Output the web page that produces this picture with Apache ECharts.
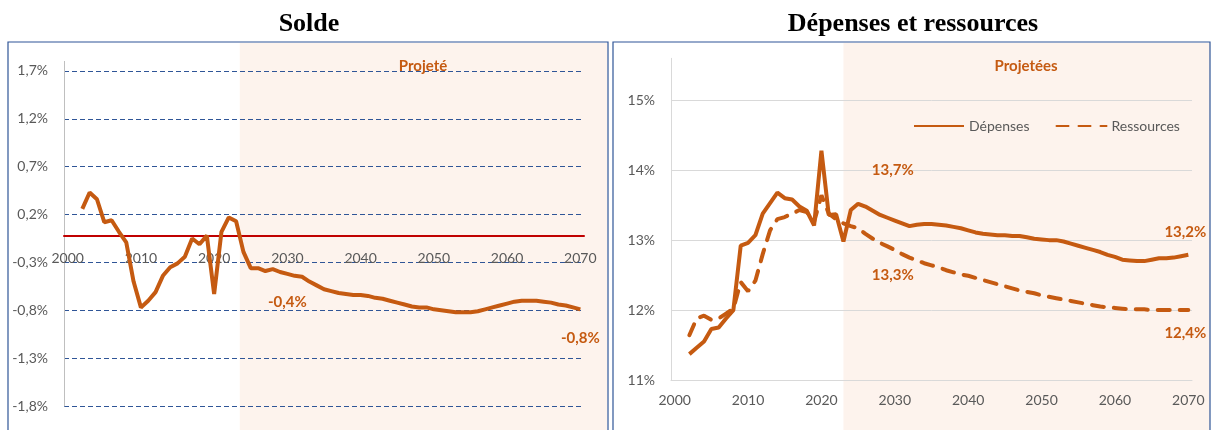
<!DOCTYPE html>
<html>
<head>
<meta charset="utf-8">
<script src="https://cdn.jsdelivr.net/npm/echarts@6/dist/echarts.min.js"></script>
<style>
  html, body { margin: 0; padding: 0; background: #fff; }
  #chart { width: 1212px; height: 430px; }
</style>
</head>
<body>
<div id="chart"></div>
<script>
// categories: 2000 .. 2070 (one per year)
const years = [];
for (let y = 2000; y <= 2070; y++) years.push(String(y));

// solde, % du PIB (2000-2001 vides)
const solde = [null, null,
  0.26, 0.43, 0.36, 0.12, 0.14, 0.02, -0.09, -0.50,
  -0.77, -0.70, -0.61, -0.44, -0.35, -0.31, -0.24, -0.05, -0.11, -0.02,
  -0.63, 0.02, 0.17, 0.13, -0.19, -0.36, -0.36, -0.39, -0.37, -0.40,
  -0.42, -0.44, -0.45, -0.50, -0.54, -0.58, -0.60, -0.62, -0.63, -0.64,
  -0.64, -0.65, -0.67, -0.68, -0.70, -0.72, -0.74, -0.76, -0.77, -0.77,
  -0.79, -0.80, -0.81, -0.82, -0.82, -0.82, -0.81, -0.79, -0.77, -0.75,
  -0.73, -0.71, -0.70, -0.70, -0.70, -0.71, -0.72, -0.74, -0.75, -0.77,
  -0.79];

const depenses = [null, null,
  11.37, 11.46, 11.55, 11.73, 11.75, 11.88, 12.00, 12.92,
  12.96, 13.07, 13.38, 13.53, 13.68, 13.60, 13.58, 13.48, 13.42, 13.21,
  14.28, 13.36, 13.37, 12.98, 13.43, 13.52, 13.48, 13.42, 13.36, 13.32,
  13.28, 13.24, 13.20, 13.22, 13.23, 13.23, 13.22, 13.21, 13.19, 13.17,
  13.14, 13.11, 13.09, 13.08, 13.07, 13.07, 13.06, 13.06, 13.04, 13.02,
  13.01, 13.00, 13.00, 12.98, 12.95, 12.92, 12.89, 12.86, 12.83, 12.79,
  12.76, 12.72, 12.71, 12.70, 12.70, 12.72, 12.74, 12.74, 12.75, 12.77,
  12.79];

const ressources = [null, null,
  11.64, 11.88, 11.92, 11.86, 11.88, 11.95, 12.02, 12.40,
  12.27, 12.42, 12.80, 13.14, 13.30, 13.33, 13.38, 13.43, 13.40, 13.26,
  13.64, 13.38, 13.30, 13.24, 13.20, 13.17, 13.09, 13.02, 12.96, 12.91,
  12.86, 12.80, 12.75, 12.71, 12.67, 12.64, 12.61, 12.57, 12.54, 12.51,
  12.49, 12.46, 12.43, 12.40, 12.37, 12.34, 12.31, 12.28, 12.26, 12.24,
  12.21, 12.19, 12.17, 12.15, 12.13, 12.11, 12.09, 12.07, 12.05, 12.04,
  12.03, 12.02, 12.01, 12.01, 12.01, 12.00, 12.00, 12.00, 12.00, 12.00,
  12.00];

// annotations (texte, année)
const soldeLabels = [['-0,4%', '2030'], ['-0,8%', '2070']];
const depLabels = [['13,7%', '2030'], ['13,2%', '2070']];
const resLabels = [['13,3%', '2030'], ['12,4%', '2070']];

const ORANGE = '#C55A11';
const GREY = '#595959';
const FONT = 'Lato, "Noto Sans", sans-serif';

const chart = echarts.init(document.getElementById('chart'));

function marks(labels, data, offsets) {
  return {
    symbol: 'circle',
    symbolSize: 1,
    itemStyle: { color: 'rgba(0,0,0,0)' },
    label: {
      show: true,
      color: ORANGE,
      fontWeight: 'bold',
      fontSize: 15,
      fontFamily: FONT,
    },
    data: labels.map((l, i) => ({
      coord: [l[1], data[years.indexOf(l[1])]],
      label: { formatter: l[0], offset: offsets[i] },
    })),
  };
}

const option = {
  animation: false,
  grid: [
    { left: 64, right: 628, top: 61.4, bottom: 24 },
    { left: 671, right: 20, top: 58.3, bottom: 50 },
  ],
  xAxis: [
    {
      type: 'category',
      gridIndex: 0,
      data: years,
      boundaryGap: true,
      axisLine: { onZero: false, lineStyle: { color: '#C00000', width: 2 } },
      axisTick: { show: false },
      axisLabel: { interval: 9, margin: 15, color: GREY, fontSize: 14, fontFamily: FONT },
    },
    {
      type: 'category',
      gridIndex: 1,
      data: years,
      boundaryGap: true,
      axisLine: { lineStyle: { color: '#D9D9D9', width: 1 } },
      axisTick: { show: false },
      axisLabel: { interval: 9, margin: 13, color: GREY, fontSize: 14, fontFamily: FONT },
    },
  ],
  yAxis: [
    {
      type: 'value',
      gridIndex: 0,
      min: -1.8,
      max: 1.8,
      interval: 0.5,
      axisLine: { show: true, lineStyle: { color: '#BFBFBF' } },
      axisTick: { show: false },
      axisLabel: {
        margin: 16, color: GREY, fontSize: 14, fontFamily: FONT,
        showMaxLabel: false,
        formatter: (v) => (v > 1.75 ? '' : v.toFixed(1).replace('.', ',') + '%'),
      },
      splitLine: {
        show: true,
        lineStyle: {
          type: [5, 3],
          width: 1,
          color: ['#2F5597', '#2F5597', '#2F5597', '#2F5597', '#2F5597', '#2F5597', '#2F5597', '#2F5597', 'rgba(0,0,0,0)'],
        },
      },
    },
    {
      type: 'value',
      gridIndex: 1,
      min: 11,
      max: 15.6,
      interval: 1,
      axisLine: { show: true, lineStyle: { color: '#D9D9D9' } },
      axisTick: { show: false },
      axisLabel: {
        margin: 16, color: GREY, fontSize: 14, fontFamily: FONT,
        showMaxLabel: false,
        formatter: (v) => (v > 15.5 ? '' : v + '%'),
      },
      splitLine: {
        show: true,
        lineStyle: {
          width: 1,
          color: ['#D9D9D9', '#D9D9D9', '#D9D9D9', '#D9D9D9', '#D9D9D9', 'rgba(0,0,0,0)'],
        },
      },
    },
  ],
  legend: {
    data: ['Dépenses', 'Ressources'],
    left: 908,
    top: 114,
    itemWidth: 50,
    itemHeight: 14,
    itemGap: 26,
    itemStyle: { opacity: 0 },
    textStyle: { color: GREY, fontSize: 14, fontFamily: FONT },
  },
  series: [
    {
      name: 'Solde',
      type: 'line',
      xAxisIndex: 0,
      yAxisIndex: 0,
      data: solde,
      symbol: 'none',
      lineStyle: { color: ORANGE, width: 4 },
      itemStyle: { color: ORANGE },
      markPoint: marks(soldeLabels, solde, [[0, 28], [0, 29]]),
    },
    {
      name: 'Dépenses',
      type: 'line',
      xAxisIndex: 1,
      yAxisIndex: 1,
      data: depenses,
      symbol: 'none',
      lineStyle: { color: ORANGE, width: 4 },
      itemStyle: { color: ORANGE },
      markPoint: marks(depLabels, depenses, [[-2, -50], [-3, -23]]),
    },
    {
      name: 'Ressources',
      type: 'line',
      xAxisIndex: 1,
      yAxisIndex: 1,
      data: ressources,
      symbol: 'none',
      lineStyle: { color: ORANGE, width: 4, type: [12, 10], cap: 'round' },
      itemStyle: { color: ORANGE },
      markPoint: marks(resLabels, ressources, [[-2, 25], [-3, 23]]),
    },
  ],
};

chart.setOption(option);

// x axis of "Solde" sits on the zero line
const yZero = chart.convertToPixel({ yAxisIndex: 0 }, 0);
const yBottom = chart.convertToPixel({ yAxisIndex: 0 }, -1.8);

// zone "projetée" : from the axis positions of 2023
const p23 = chart.convertToPixel({ xAxisIndex: 0 }, '2023');
const p24 = chart.convertToPixel({ xAxisIndex: 0 }, '2024');
const leftShade = (p23 + p24) / 2;
const rightShade = chart.convertToPixel({ xAxisIndex: 1 }, '2023');
const SHADE = '#FDF3ED';
const TITLE_FONT = 'bold 26px "Liberation Serif", serif';
const NOTE_FONT = 'bold 15px Lato, "Noto Sans", sans-serif';

chart.setOption({
  xAxis: [{ offset: yZero - yBottom }, {}],
  graphic: [
    { type: 'rect', z: -1, shape: { x: leftShade, y: 43, width: 607 - leftShade, height: 400 }, style: { fill: SHADE } },
    { type: 'rect', z: -1, shape: { x: rightShade, y: 43, width: 1210 - rightShade, height: 400 }, style: { fill: SHADE } },
    { type: 'rect', z: 10, shape: { x: 8, y: 42, width: 600, height: 400 }, style: { fill: 'none', stroke: '#2F5597', lineWidth: 1.2 } },
    { type: 'rect', z: 10, shape: { x: 613, y: 42, width: 597, height: 400 }, style: { fill: 'none', stroke: '#2F5597', lineWidth: 1.2 } },
    { type: 'text', x: 309, y: 24, style: { text: 'Solde', font: TITLE_FONT, fill: '#000', align: 'center', verticalAlign: 'middle' } },
    { type: 'text', x: 913, y: 24, style: { text: 'Dépenses et ressources', font: TITLE_FONT, fill: '#000', align: 'center', verticalAlign: 'middle' } },
    { type: 'text', x: 423, y: 66, style: { text: 'Projeté', font: NOTE_FONT, fill: ORANGE, align: 'center', verticalAlign: 'middle' } },
    { type: 'text', x: 1026, y: 66, style: { text: 'Projetées', font: NOTE_FONT, fill: ORANGE, align: 'center', verticalAlign: 'middle' } },
  ],
});
</script>
</body>
</html>
